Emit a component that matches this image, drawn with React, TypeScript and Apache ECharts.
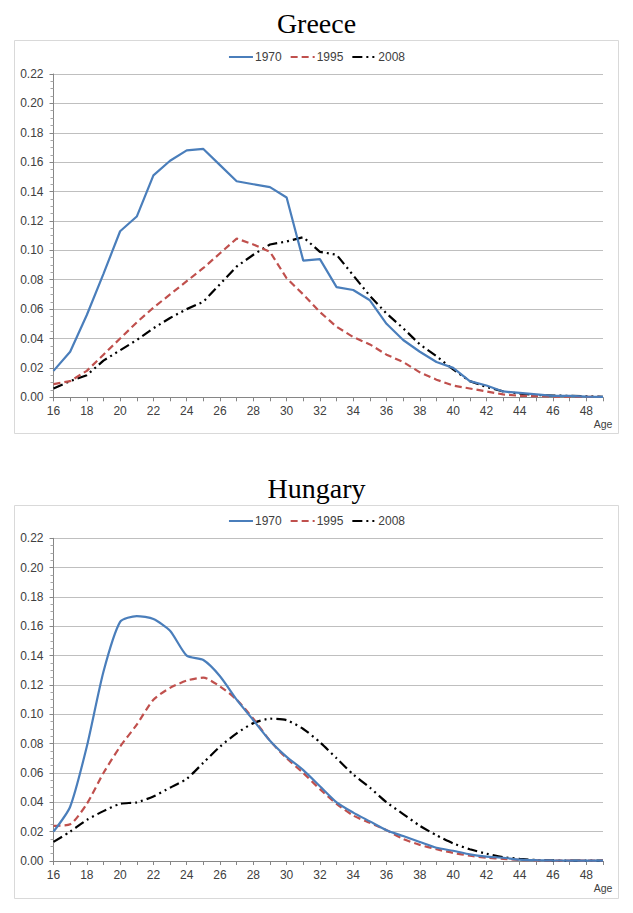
import React, { useEffect, useRef } from "react";
import * as echarts from "echarts";

const ages = ["16","17","18","19","20","21","22","23","24","25","26","27","28","29","30","31","32","33","34","35","36","37","38","39","40","41","42","43","44","45","46","47","48","49"];
const seriesNames = ["1970", "1995", "2008"];
const chartTitles = ["Greece", "Hungary"];

const greece1970 = [0.018,0.031,0.056,0.084,0.113,0.123,0.151,0.161,0.168,0.169,0.158,0.147,0.145,0.143,0.136,0.093,0.094,0.075,0.073,0.066,0.050,0.039,0.031,0.024,0.020,0.011,0.008,0.004,0.003,0.002,0.001,0.001,0.0005,0.0003];
const greece1995 = [0.009,0.011,0.018,0.029,0.040,0.051,0.061,0.070,0.079,0.088,0.098,0.108,0.104,0.099,0.081,0.070,0.058,0.048,0.041,0.036,0.029,0.024,0.017,0.012,0.008,0.006,0.004,0.002,0.001,0.0008,0.0005,0.0004,0.0003,0.0002];
const greece2008 = [0.006,0.011,0.015,0.025,0.032,0.039,0.047,0.054,0.060,0.065,0.077,0.089,0.097,0.104,0.106,0.109,0.099,0.097,0.083,0.069,0.057,0.047,0.036,0.028,0.019,0.011,0.007,0.004,0.0025,0.0015,0.0012,0.001,0.0007,0.0003];

const hungary1970 = [0.020,0.037,0.078,0.129,0.163,0.167,0.165,0.157,0.140,0.137,0.126,0.110,0.096,0.082,0.071,0.062,0.051,0.040,0.033,0.027,0.021,0.017,0.013,0.009,0.007,0.0045,0.003,0.0022,0.001,0.0006,0.0004,0.0003,0.0002,0.0002];
const hungary1995 = [0.024,0.025,0.039,0.060,0.078,0.093,0.110,0.118,0.123,0.125,0.119,0.110,0.097,0.082,0.070,0.060,0.049,0.039,0.031,0.026,0.021,0.015,0.011,0.008,0.0055,0.0036,0.0023,0.0014,0.0007,0.0004,0.0003,0.0002,0.0002,0.0002];
const hungary2008 = [0.013,0.020,0.028,0.034,0.039,0.040,0.044,0.050,0.056,0.067,0.078,0.087,0.094,0.097,0.096,0.090,0.081,0.070,0.059,0.050,0.040,0.032,0.024,0.0175,0.012,0.008,0.005,0.0027,0.0014,0.0007,0.0004,0.0002,0.0002,0.0002];

const FONT = "Liberation Sans, Arial, sans-serif";
const colors = ["#4A7EBB", "#C0504D", "#000000"];
const dashes: any[] = ["solid", [7, 4], [10, 4, 2, 4, 2, 4]];

export default function App() {
  const ref = useRef<HTMLDivElement>(null);
  useEffect(() => {
    if (!ref.current) return;
    const chart = echarts.init(ref.current, null, { renderer: "svg" });
    const grids = [
      { left: 53.5, top: 74, width: 549.5, height: 323.3 },
      { left: 53.5, top: 538.3, width: 549.5, height: 322.7 },
    ];
    const boxes = [
      { x: 14.5, y: 40.5, w: 604, h: 393 },
      { x: 14.5, y: 505.5, w: 604, h: 393 },
    ];
    const data = [
      [greece1970, greece1995, greece2008],
      [hungary1970, hungary1995, hungary2008],
    ];
    const xAxes = grids.map((_, i) => ({
      type: "category",
      gridIndex: i,
      data: ages,
      boundaryGap: false,
      name: "Age",
      nameLocation: "end",
      nameGap: 0,
      nameTextStyle: {
        fontFamily: FONT,
        fontSize: 10.5,
        color: "#404040",
        align: "center",
        verticalAlign: "top",
        padding: [21, 0, 0, 0],
      },
      axisLine: { lineStyle: { color: "#868686", width: 1 } },
      axisTick: { show: true, interval: 0, length: 4, lineStyle: { color: "#868686" } },
      axisLabel: { interval: 1, fontFamily: FONT, fontSize: 12, color: "#404040", margin: 8 },
      splitLine: { show: false },
    }));
    const yAxes = grids.map((_, i) => ({
      type: "value",
      gridIndex: i,
      min: 0,
      max: 0.22,
      interval: 0.02,
      axisLine: { show: true, lineStyle: { color: "#868686", width: 1 } },
      axisTick: { show: true, length: 4, lineStyle: { color: "#868686" } },
      minorTick: { show: true, splitNumber: 4, length: 3, lineStyle: { color: "#a6a6a6" } },
      axisLabel: {
        fontFamily: FONT,
        fontSize: 12,
        color: "#404040",
        margin: 10,
        formatter: (v: number) => v.toFixed(2),
      },
      splitLine: { show: true, lineStyle: { color: "#bfbfbf", width: 1 } },
    }));
    const series: any[] = [];
    data.forEach((set, gi) => {
      set.forEach((vals, si) => {
        series.push({
          type: "line",
          name: seriesNames[si],
          xAxisIndex: gi,
          yAxisIndex: gi,
          data: vals,
          symbol: "none",
          smooth: gi === 1 ? 0.22 : false,
          z: 10 - si,
          lineStyle: { color: colors[si], width: 2.2, type: dashes[si] },
          itemStyle: { color: colors[si] },
        });
      });
    });
    const legendBase = {
      data: seriesNames,
      left: "center",
      itemWidth: 24,
      itemHeight: 12,
      itemGap: 8,
      itemStyle: { opacity: 0 },
      textStyle: { fontFamily: FONT, fontSize: 12, color: "#404040", padding: [0, 0, 0, -3] },
    };
    chart.setOption({
      animation: false,
      backgroundColor: "#ffffff",
      title: [
        { text: chartTitles[0], left: "center", top: 4, textStyle: { fontFamily: "Liberation Serif, Times New Roman, serif", fontSize: 28, fontWeight: "normal", color: "#000" } },
        { text: chartTitles[1], left: "center", top: 469, textStyle: { fontFamily: "Liberation Serif, Times New Roman, serif", fontSize: 28, fontWeight: "normal", color: "#000" } },
      ],
      legend: [
        { ...legendBase, top: 46 },
        { ...legendBase, top: 510 },
      ],
      graphic: boxes.map((b) => ({
        type: "rect",
        shape: { x: b.x, y: b.y, width: b.w, height: b.h },
        style: { fill: "none", stroke: "#d9d9d9", lineWidth: 1 },
        silent: true,
        z: -1,
      })),
      grid: grids,
      xAxis: xAxes,
      yAxis: yAxes,
      series,
    });
    return () => chart.dispose();
  }, []);
  return (
    <div
      ref={ref}
      style={{ position: "absolute", left: 0, top: 0, width: 633, height: 913 }}
    />
  );
}
